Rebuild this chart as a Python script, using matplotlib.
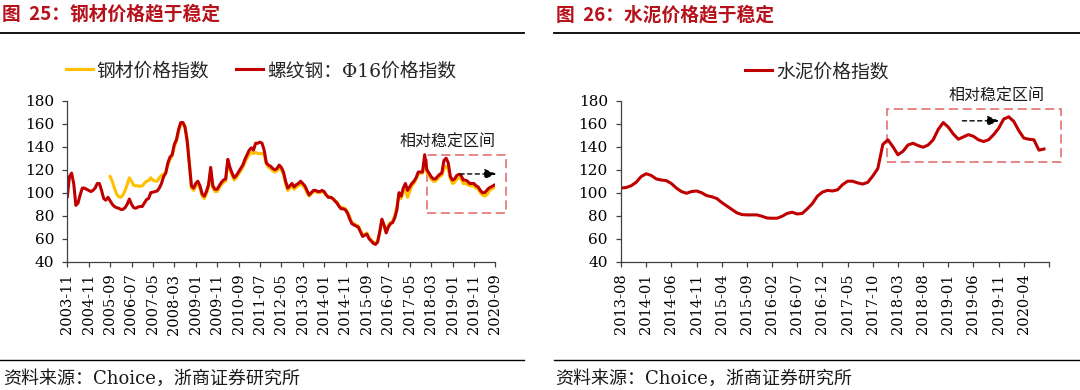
import matplotlib
matplotlib.use('Agg')
import matplotlib.pyplot as plt
from matplotlib.lines import Line2D
from matplotlib.patches import Rectangle

# ---------------- data ----------------
steel_tick_labels = ['2003-11', '2004-11', '2005-09', '2006-07', '2007-05', '2008-03',
                     '2009-01', '2009-11', '2010-09', '2011-07', '2012-05', '2013-03',
                     '2014-01', '2014-11', '2015-09', '2016-07', '2017-05', '2018-03',
                     '2019-01', '2019-11', '2020-09']

# 螺纹钢：Φ16价格指数 (monthly points, 201)
rebar_index = [
    96.5, 114, 117, 108, 89, 91, 98, 104, 104, 103,
    102, 101, 102, 104, 108, 108, 102, 95, 93.5, 96,
    93, 90, 88, 87, 86.5, 85.5, 85.5, 87, 90, 94.5,
    90, 87, 86.5, 87.5, 88, 88, 91, 94, 95, 100,
    100.5, 101, 101.5, 104, 108, 114, 117, 126, 131, 133,
    142, 146, 155, 161, 161, 157, 145, 125, 106, 104,
    108, 110, 106, 99, 97, 101, 107, 122, 106, 103,
    103, 106, 109, 111, 112, 129, 122, 117, 113, 115,
    118, 121, 124, 129, 133, 137, 139, 137, 143, 143,
    144, 143, 137, 126, 124, 123, 121, 120, 121, 124,
    122, 118, 110, 104, 106, 108, 105, 107, 108, 110,
    108, 106, 102, 98, 100, 102, 102, 101, 101, 102,
    101, 98, 96, 96, 95, 93, 91, 88, 86, 86,
    85, 82, 77, 73, 72, 71, 70, 66, 62, 63,
    64, 60, 58, 56, 55, 57, 66, 77, 72, 65,
    70, 73, 74, 78, 85, 100, 97, 104, 108, 102,
    105, 108, 110, 113, 118, 118, 118, 133, 120, 117,
    114, 112, 112, 114, 116, 117, 128, 130, 126, 114,
    111, 112, 115, 116, 115, 111, 111, 110, 108, 108,
    108, 106, 105, 102, 100, 100, 102, 104, 105, 106,
    107]

# 钢材价格指数 (starts at the 21st point)
steel_start = 20
steel_index = [
    114, 110, 104, 99, 96.5, 96, 98, 102, 107, 113,
    110, 106.5, 106, 106, 105.5, 106, 108, 110, 110.5, 113,
    111, 110, 110, 113, 115, 116, 118, 124, 129, 132,
    140, 145, 153, 159, 161, 158, 147, 127, 104, 102,
    105, 108, 104, 97, 95, 99, 105, 119, 104, 101,
    101, 104, 107, 109, 110, 126, 120, 115, 111, 113,
    116, 119, 122, 126, 130, 133, 135, 134, 135, 134,
    134, 134, 133, 125, 122, 121, 119, 118, 119, 122,
    120, 116, 108, 102, 104, 106, 103, 105, 106, 108,
    106, 104, 100, 97, 99, 101, 101, 100, 100, 101,
    100, 98, 96, 96, 95, 93, 92, 89, 87, 87,
    86, 83, 79, 74, 73, 72, 71, 67, 63, 64,
    65, 61, 59, 57, 56, 58, 66, 76, 71, 66,
    72, 74, 75, 80, 88, 99, 95, 101, 102, 96,
    101, 106, 108, 112, 116, 117, 117, 128, 118, 115,
    112, 110, 110, 112, 114, 115, 121, 123, 121, 112,
    108, 109, 112, 113, 112, 108, 108, 107, 106, 106,
    106, 104, 103, 100, 98, 97, 98, 101, 103, 104,
    105]

cement_tick_labels = ['2013-08', '2014-01', '2014-06', '2014-11', '2015-04', '2015-09',
                      '2016-02', '2016-07', '2016-12', '2017-05', '2017-10', '2018-03',
                      '2018-08', '2019-01', '2019-06', '2019-11', '2020-04', '']

# 水泥价格指数 (monthly, 85 points)
cement_index = [
    104, 104.5, 106, 109, 114, 116.5, 115, 112, 111, 110.5,
    108, 104, 101, 99.5, 101, 101.5, 100, 97.5, 96.5, 95,
    91.5, 88.5, 85.5, 82.5, 81, 80.7, 80.7, 80.7, 79.5, 78,
    77.8, 77.8, 79.5, 82, 83, 81.5, 82, 86, 90.5, 97,
    100.5, 102, 101.5, 102.5, 107, 110, 110, 108.5, 107.5, 109,
    114.5, 121, 142, 146, 140, 133, 136, 141.5, 143, 141,
    139.5, 141.5, 146, 155, 161, 157, 151, 146.5, 148.5, 150.5,
    149, 146, 144.5, 146, 150.5, 156, 164, 166, 162, 154,
    147.5, 146.5, 146, 137, 138]

# annotation geometry (data units)
steel_box = (168, 82.6, 205, 132.8)      # x0, y0, x1, y1
steel_arrow = ((183.5, 116.3), (200.5, 116.3))
steel_note = (177.5, 144.3)
cement_box = (52.9, 126.5, 87.3, 173)
cement_arrow = ((67.8, 162.5), (75.1, 162.5))
cement_note = (74.6, 184)

# ---------------- style ----------------
W, H = 1080, 390
RED = '#C00000'
YELLOW = '#FFC000'
TITLE_RED = '#B5121B'
BOX = '#E06666'
MIX = ['DejaVu Serif', 'Noto Sans CJK SC']
NUM = 'DejaVu Serif'

fig = plt.figure(figsize=(10.8, 3.9), dpi=100)


def fx(px):
    return px / W


def fy(py):
    return 1 - py / H


def hline(x0, x1, y, lw):
    fig.add_artist(Line2D([fx(x0), fx(x1)], [fy(y), fy(y)], transform=fig.transFigure,
                          color='black', lw=lw))


# titles
fig.text(fx(2.5), fy(14), '图  25：钢材价格趋于稳定', fontsize=13.5, fontweight='bold',
         color=TITLE_RED, family='Noto Sans CJK SC', va='center', ha='left')
fig.text(fx(555.5), fy(15), '图  26：水泥价格趋于稳定', fontsize=13.5, fontweight='bold',
         color=TITLE_RED, family='Noto Sans CJK SC', va='center', ha='left')
hline(0, 524, 33, 1.3)
hline(554, 1080, 33, 1.3)

# footers
hline(0, 524, 360, 1.0)
hline(554, 1080, 360, 1.0)
fig.text(fx(3), fy(379), '资料来源：Choice，浙商证券研究所', fontsize=13, family=MIX,
         va='center', ha='left', color='#1a1a1a')
fig.text(fx(555.5), fy(379), '资料来源：Choice，浙商证券研究所', fontsize=13, family=MIX,
         va='center', ha='left', color='#1a1a1a')

ax_h = (261.7 - 100.7) / H
axL = fig.add_axes([fx(67.3), fy(261.7), fx(495.3 - 67.3), ax_h])
axR = fig.add_axes([fx(621), fy(261.7), fx(1049 - 621), ax_h])


def style(ax):
    for s in ('top', 'right'):
        ax.spines[s].set_visible(False)
    for s in ('left', 'bottom'):
        ax.spines[s].set_color('#404040')
        ax.spines[s].set_linewidth(0.9)
    ax.set_ylim(40, 180)
    ax.set_yticks(range(40, 181, 20))
    ax.tick_params(axis='y', direction='out', length=3.5, width=0.9, color='#404040',
                   pad=6, labelsize=11)
    ax.tick_params(axis='x', direction='out', length=3.5, width=0.9, color='#404040',
                   pad=5, labelsize=10.5)
    for lab in ax.get_yticklabels():
        lab.set_family(NUM)


# ---- left chart ----
xL = list(range(len(rebar_index)))
xS = list(range(steel_start, steel_start + len(steel_index)))
axL.plot(xS, steel_index, color=YELLOW, lw=2.2, solid_joinstyle='round', label='钢材价格指数')
axL.plot(xL, rebar_index, color=RED, lw=2.2, solid_joinstyle='round', label='螺纹钢：Φ16价格指数')
axL.set_xlim(0, 200)
axL.set_xticks(range(0, 201, 10))
axL.set_xticklabels(steel_tick_labels, rotation=90, family=NUM)
style(axL)

bx0, by0, bx1, by1 = steel_box
axL.add_patch(Rectangle((bx0, by0), bx1 - bx0, by1 - by0, fill=False, edgecolor=BOX,
                        lw=1.1, linestyle=(0, (6, 3)), clip_on=False))
(a0, a1) = steel_arrow
axL.annotate('', xy=a1, xytext=a0, annotation_clip=False,
             arrowprops=dict(arrowstyle='-|>,head_length=0.7,head_width=0.3', color='black',
                             lw=1.0, linestyle=(0, (3, 2.5)), shrinkA=0, shrinkB=0))
axL.text(steel_note[0], steel_note[1], '相对稳定区间', family=MIX, fontsize=11.5,
         ha='center', va='center', color='#1a1a1a', clip_on=False)

legL = axL.legend(loc='center left', bbox_to_anchor=(fx(65.5), fy(71)),
                  bbox_transform=fig.transFigure, ncol=2, frameon=False,
                  prop={'family': MIX, 'size': 13.5}, handlelength=1.45,
                  handletextpad=0.2, columnspacing=1.45, borderpad=0, borderaxespad=0)
for t in legL.get_texts():
    t.set_color('#262626')

# ---- right chart ----
xR = list(range(len(cement_index)))
axR.plot(xR, cement_index, color=RED, lw=2.2, solid_joinstyle='round', label='水泥价格指数')
axR.set_xlim(0, 85)
axR.set_xticks(range(0, 86, 5))
axR.set_xticklabels(cement_tick_labels, rotation=90, family=NUM)
style(axR)

bx0, by0, bx1, by1 = cement_box
axR.add_patch(Rectangle((bx0, by0), bx1 - bx0, by1 - by0, fill=False, edgecolor=BOX,
                        lw=1.1, linestyle=(0, (6, 3)), clip_on=False))
(a0, a1) = cement_arrow
axR.annotate('', xy=a1, xytext=a0, annotation_clip=False,
             arrowprops=dict(arrowstyle='-|>,head_length=0.7,head_width=0.3', color='black',
                             lw=1.0, linestyle=(0, (3, 2.5)), shrinkA=0, shrinkB=0))
axR.text(cement_note[0], cement_note[1], '相对稳定区间', family=MIX, fontsize=11.5,
         ha='center', va='center', color='#1a1a1a', clip_on=False)

legR = axR.legend(loc='center left', bbox_to_anchor=(fx(745), fy(72)),
                  bbox_transform=fig.transFigure, ncol=1, frameon=False,
                  prop={'family': MIX, 'size': 13.5}, handlelength=1.45,
                  handletextpad=0.2, borderpad=0, borderaxespad=0)
for t in legR.get_texts():
    t.set_color('#262626')

fig.savefig('out.png', dpi=100)
